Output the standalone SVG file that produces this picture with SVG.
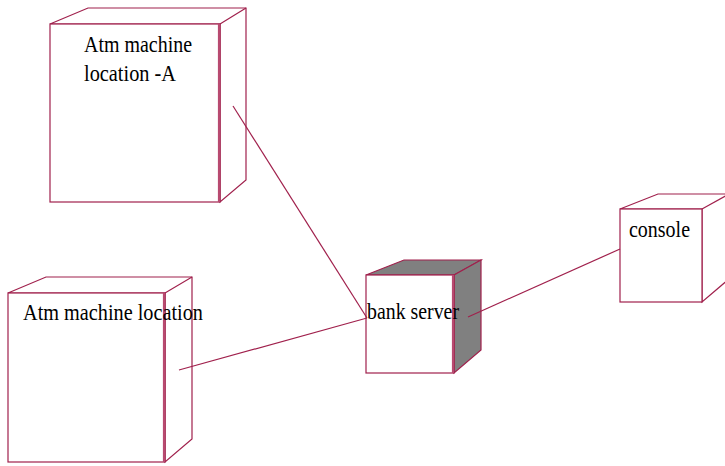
<svg xmlns="http://www.w3.org/2000/svg" width="725" height="466" viewBox="0 0 725 466">
<style>
.e{fill:none;stroke:#a0204c;stroke-width:1.2}
.f{fill:#fff;stroke:#a0204c;stroke-width:1.2}
.g{fill:#808080;stroke:#a0204c;stroke-width:1.2}
.r{stroke:#b84a70;stroke-width:2.2}
.t{font-family:"Liberation Serif","Times New Roman",serif;font-size:24px;fill:#000}
</style>
<rect width="725" height="466" fill="#fff"/>
<g id="atmA">
<polygon class="f" points="50,24 88,8 246,8 246,180 220,202 220,24"/>
<line class="e" x1="220" y1="24" x2="246" y2="8"/>
<rect class="f" x="50" y="24" width="170" height="178"/>
<line class="r" x1="219" y1="24" x2="219" y2="202"/>
<text class="t" x="84" y="52" textLength="108" lengthAdjust="spacingAndGlyphs">Atm machine</text>
<text class="t" x="84" y="81" textLength="92" lengthAdjust="spacingAndGlyphs">location -A</text>
</g>
<g id="atmB">
<polygon class="f" points="8,293 46,277 192,277 192,439 165,462 165,293"/>
<line class="e" x1="165" y1="293" x2="192" y2="277"/>
<rect class="f" x="8" y="293" width="157" height="169"/>
<line class="r" x1="164" y1="293" x2="164" y2="462"/>
<text class="t" x="23" y="320" textLength="180" lengthAdjust="spacingAndGlyphs">Atm machine location</text>
</g>
<g id="bank">
<polygon class="g" points="366,275 404,260 481,260 454,275"/>
<polygon class="g" points="454,275 481,260 481,350 454,373"/>
<rect class="f" x="366" y="275" width="88" height="98"/>
<line class="r" x1="453" y1="275" x2="453" y2="373"/>
<text class="t" x="367" y="319" textLength="92" lengthAdjust="spacingAndGlyphs">bank server</text>
</g>
<g id="console">
<polygon class="f" points="620,209 658,194 729,194 729,279 702,302 702,209"/>
<line class="e" x1="702" y1="209" x2="729" y2="194"/>
<rect class="f" x="620" y="209" width="82" height="93"/>
<text class="t" x="629" y="237" textLength="61" lengthAdjust="spacingAndGlyphs">console</text>
</g>
<g id="connectors" class="e">
<line x1="233" y1="106" x2="367" y2="318"/>
<line x1="179" y1="370" x2="367" y2="318"/>
<line x1="468" y1="317" x2="620" y2="249"/>
</g>
</svg>
